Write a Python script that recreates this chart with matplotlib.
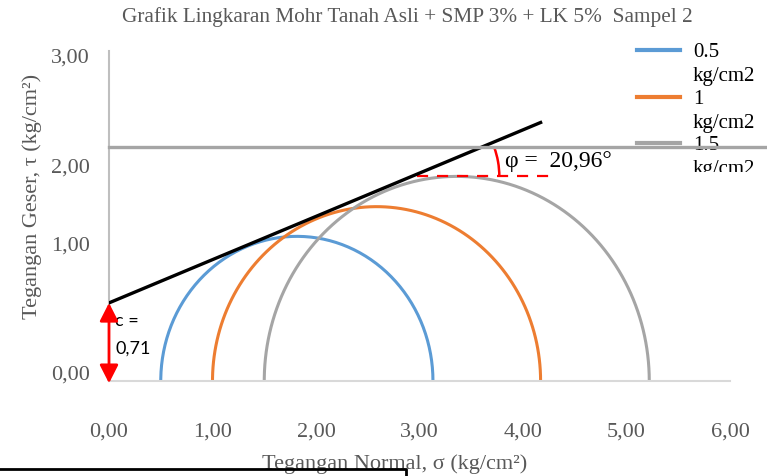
""" Mohr circle chart: Tanah Asli + SMP 3% + LK 5%, sampel 2 """

import numpy as np
import matplotlib
matplotlib.use("Agg")
import matplotlib.pyplot as plt
from matplotlib.patches import Arc, Rectangle

# data
sigma3 = [0.50, 1.00, 1.50]          # kg/cm2
sigma1 = [3.13, 4.17, 5.22]          # kg/cm2
circle_labels = ["0.5", "1", "1.5"]
circle_colors = ["#5b9bd5", "#ed7d31", "#a5a5a5"]

env_sigma = [0.00, 4.17]             # failure envelope
env_tau = [0.71, 2.35]
cohesion = 0.71
phi_text = "φ =  20,96°"
ref_tau = 2.13                       # grey horizontal line
dash_sigma = [2.98, 4.33]            # red dashed helper line
dash_tau = 1.86

xticks = [0, 1, 2, 3, 4, 5, 6]
xtick_labels = ["0,00", "1,00", "2,00", "3,00", "4,00", "5,00", "6,00"]
# the y labels sit off their true values in the original picture
yticks = [0.08, 1.25, 1.96, 2.96]
ytick_labels = ["0,00", "1,00", "2,00", "3,00"]

W, H = 767, 476
grey_txt = "#595959"
serif = "Liberation Serif"

fig = plt.figure(figsize=(W / 100, H / 100), dpi=100)
ax = fig.add_axes([109 / W, 95 / H, 621 / W, 330 / H])
ax.set_xlim(0, 6)
ax.set_ylim(0, 3)
ax.patch.set_visible(False)

# Mohr semicircles
for s3, s1, col in zip(sigma3, sigma1, circle_colors):
    c = (s1 + s3) / 2
    r = (s1 - s3) / 2
    t = np.linspace(0, np.pi, 200)
    ax.plot(c + r * np.cos(t), r * np.sin(t), color=col, lw=2.2, zorder=2)

# envelope
ax.plot(env_sigma, env_tau, color="black", lw=2.4, zorder=4)

# grey horizontal line running out to the figure edge
ax.plot([0, 6.36], [ref_tau, ref_tau], color="#a5a5a5", lw=2.4,
        clip_on=False, zorder=5)

# red dashed line and angle arc
ax.plot(dash_sigma, [dash_tau, dash_tau], color="red", lw=1.6,
        dashes=(5, 4), zorder=3)
ax.add_patch(Arc((2.95, dash_tau), 2 * 85 / 103.5, 2 * 85 / 110,
                 theta1=0, theta2=19, color="red", lw=1.8, zorder=3))
ax.text(3.83, 2.0, phi_text, fontsize=17, family=serif, color="black",
        va="center", ha="left", zorder=1)

# cohesion arrow
ax.annotate("", xy=(0, cohesion), xytext=(0, -0.02), annotation_clip=False,
            arrowprops=dict(arrowstyle="<|-|>,head_length=0.55,head_width=0.28",
                            color="red", lw=2, mutation_scale=20,
                            shrinkA=0, shrinkB=0), zorder=6)
ax.text(0.06, 0.42, "c =\n0,71", fontsize=13, family="Lato", color="black",
        va="center", ha="left", linespacing=1.85)

# axes styling
for side in ["top", "right"]:
    ax.spines[side].set_visible(False)
ax.spines["left"].set_color("#bfbfbf")
ax.spines["left"].set_linewidth(1.5)
ax.spines["bottom"].set_color("#d9d9d9")
ax.spines["bottom"].set_linewidth(1.5)

ax.set_xticks(xticks)
ax.set_xticklabels(xtick_labels, family=serif, fontsize=16, color=grey_txt)
ax.set_yticks(yticks)
ax.set_yticklabels(ytick_labels, family=serif, fontsize=16, color=grey_txt)
ax.tick_params(axis="x", length=0, pad=30)
ax.tick_params(axis="y", length=0, pad=14)

ax.set_xlabel("Tegangan Normal, σ (kg/cm²)", family=serif, fontsize=16,
              color=grey_txt)
ax.xaxis.set_label_coords(0.4605, -0.222)
ax.set_ylabel("Tegangan Geser, τ (kg/cm²)", family=serif, fontsize=16,
              color=grey_txt)
ax.yaxis.set_label_coords(-0.108, 0.56)

fig.text(407 / W, 1 - 17 / H,
         "Grafik Lingkaran Mohr Tanah Asli + SMP 3% + LK 5%  Sampel 2",
         family=serif, fontsize=15.3, color=grey_txt, ha="center", va="center")

# legend drawn by hand, cut off at the bottom like the original
for i, (lab, col) in enumerate(zip(circle_labels, circle_colors)):
    y0 = 1 - (50 + 46.5 * i) / H
    ax.plot([637 / W, 680 / W], [y0, y0], color=col, lw=3,
            transform=fig.transFigure, clip_on=False)
    ax.text(693 / W, y0 + 7 / H, lab + "\nkg/cm2", transform=fig.transFigure,
            family=serif, fontsize=15, color="black", va="top", ha="left",
            linespacing=1.38, zorder=1)
ax.add_patch(Rectangle((685 / W, 1 - 205 / H), 82 / W, 33 / H,
                       transform=fig.transFigure, facecolor="white",
                       edgecolor="none", clip_on=False, zorder=2))

# stray border line at the bottom left of the page
ax.plot([0, 406 / W, 406 / W], [1 - 469 / H, 1 - 469 / H, 0], color="black",
        lw=2, transform=fig.transFigure, clip_on=False)

fig.savefig("out.png", dpi=100)
